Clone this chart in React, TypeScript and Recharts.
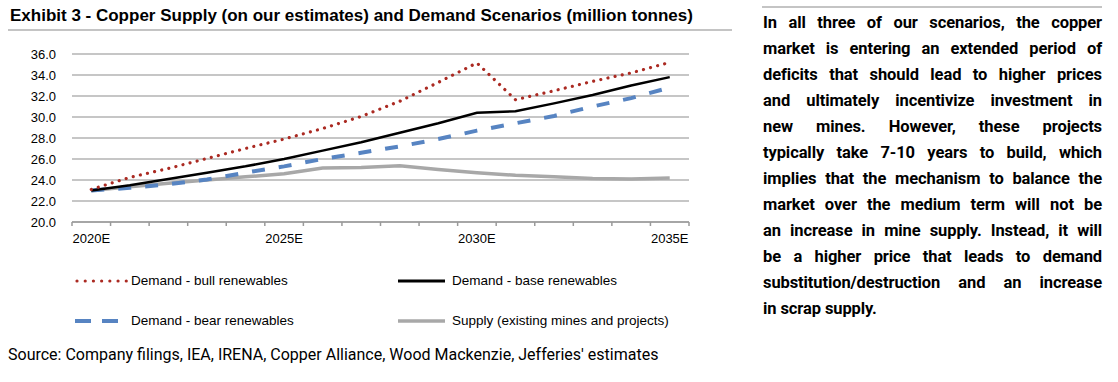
import { LineChart, Line, XAxis, YAxis, CartesianGrid } from 'recharts'

const years = ['2020E', '2021E', '2022E', '2023E', '2024E', '2025E', '2026E', '2027E', '2028E', '2029E', '2030E', '2031E', '2032E', '2033E', '2034E', '2035E']
const bull = [23.1, 24.25, 25.1, 26.05, 27.0, 27.9, 28.9, 30.05, 31.5, 33.3, 35.15, 31.65, 32.5, 33.4, 34.2, 35.2]
const base = [23.0, 23.5, 24.1, 24.7, 25.3, 26.0, 26.8, 27.6, 28.5, 29.4, 30.4, 30.55, 31.3, 32.1, 33.0, 33.8]
const bear = [23.0, 23.25, 23.6, 24.05, 24.7, 25.3, 26.0, 26.6, 27.2, 27.9, 28.7, 29.4, 30.1, 31.0, 31.8, 32.8]
const supply = [23.0, 23.35, 23.7, 24.0, 24.3, 24.6, 25.15, 25.2, 25.35, 25.0, 24.7, 24.45, 24.3, 24.15, 24.1, 24.2]
const yTicks = [20, 22, 24, 26, 28, 30, 32, 34, 36]
const labelYears = ['2020E', '2025E', '2030E', '2035E']

const seriesNames = {
  bull: 'Demand - bull renewables',
  base: 'Demand - base renewables',
  bear: 'Demand - bear renewables',
  supply: 'Supply (existing mines and projects)'
}

const paragraph = [
  'In all three of our scenarios, the copper',
  'market is entering an extended period of',
  'deficits that should lead to higher prices',
  'and ultimately incentivize investment in',
  'new mines. However, these projects',
  'typically take 7-10 years to build, which',
  'implies that the mechanism to balance the',
  'market over the medium term will not be',
  'an increase in mine supply. Instead, it will',
  'be a higher price that leads to demand',
  'substitution/destruction and an increase',
  'in scrap supply.'
]

const data = years.map((year, i) => ({
  year,
  bull: bull[i],
  base: base[i],
  bear: bear[i],
  supply: supply[i]
}))

const CHART_W = 720
const CHART_H = 260
const PLOT_LEFT = 72
const PLOT_RIGHT = 689
const BAND = (PLOT_RIGHT - PLOT_LEFT) / years.length
const labelFont = '"Liberation Sans", Arial, sans-serif'

const BULL_COLOR = '#ab2a22'
const BEAR_COLOR = '#5784c2'
const SUPPLY_COLOR = '#a8a8a8'

// category ticks: marks on the band edges, labels every 5 years
const XTick = (props: any) => {
  const { x, y, payload, index } = props
  const axisY = y - 8
  return (
    <g>
      <line x1={x - BAND / 2} x2={x - BAND / 2} y1={axisY} y2={axisY + 4} stroke="#9a9a9a" strokeWidth={1.5} />
      {index === years.length - 1 && (
        <line x1={x + BAND / 2} x2={x + BAND / 2} y1={axisY} y2={axisY + 4} stroke="#9a9a9a" strokeWidth={1.5} />
      )}
      {labelYears.includes(payload.value) && (
        <text x={x} y={axisY + 21} textAnchor="middle" fontSize={13} fontFamily={labelFont} fill="#000">
          {payload.value}
        </text>
      )}
    </g>
  )
}

const Swatch = ({ kind }: { kind: string }) => {
  if (kind === 'bull') {
    return (
      <svg width={54} height={12} style={{ display: 'block' }}>
        <line x1={2} x2={52} y1={6} y2={6} stroke={BULL_COLOR} strokeWidth={3.2} strokeDasharray="0.01 8.2" strokeLinecap="round" />
      </svg>
    )
  }
  if (kind === 'bear') {
    return (
      <svg width={54} height={12} style={{ display: 'block' }}>
        <line x1={0} x2={43} y1={6} y2={6} stroke={BEAR_COLOR} strokeWidth={4} strokeDasharray="16 11" />
      </svg>
    )
  }
  return (
    <svg width={54} height={12} style={{ display: 'block' }}>
      <line x1={2} x2={49} y1={6} y2={6} stroke={kind === 'base' ? '#000' : SUPPLY_COLOR} strokeWidth={kind === 'base' ? 3 : 3.5} />
    </svg>
  )
}

const LegendItem = ({ kind, left, top }: { kind: keyof typeof seriesNames; left: number; top: number }) => (
  <div style={{ position: 'absolute', left, top, display: 'flex', alignItems: 'center', gap: 2 }}>
    <Swatch kind={kind} />
    <span style={{ fontFamily: labelFont, fontSize: 13.5, color: '#000', whiteSpace: 'nowrap' }}>{seriesNames[kind]}</span>
  </div>
)

export default function App() {
  return (
    <div style={{ position: 'absolute', left: 0, top: 0, width: 1118, height: 382, background: '#fff', overflow: 'hidden' }}>
      {/* title */}
      <div
        style={{
          position: 'absolute',
          left: 10,
          top: 6,
          fontFamily: '"Liberation Sans Narrow", "Arial Narrow", sans-serif',
          fontWeight: 'bold',
          fontSize: 17,
          color: '#000',
          whiteSpace: 'nowrap'
        }}
      >
        Exhibit 3 - Copper Supply (on our estimates) and Demand Scenarios (million tonnes)
      </div>
      <div style={{ position: 'absolute', left: 8, top: 29, width: 724, height: 2, background: '#c4c4c4' }} />
      <div style={{ position: 'absolute', left: 762, top: 6, width: 340, height: 2, background: '#c4c4c4' }} />

      <div style={{ position: 'absolute', left: 0, top: 0 }}>
        <LineChart width={CHART_W} height={CHART_H} data={data} margin={{ top: 54, right: CHART_W - PLOT_RIGHT, bottom: 8, left: 0 }}>
          <CartesianGrid vertical={false} stroke="#b3b3b3" strokeWidth={1.5} />
          <XAxis
            dataKey="year"
            interval={0}
            height={30}
            padding={{ left: BAND / 2, right: BAND / 2 }}
            axisLine={{ stroke: '#a6a6a6', strokeWidth: 2 }}
            tickLine={false}
            tickSize={6}
            tickMargin={2}
            tick={XTick}
          />
          <YAxis
            width={PLOT_LEFT}
            domain={[20, 36]}
            ticks={yTicks}
            interval={0}
            axisLine={false}
            tickLine={false}
            tickMargin={10}
            tickFormatter={(v: number) => v.toFixed(1)}
            tick={{ fontSize: 13, fontFamily: labelFont, fill: '#000' }}
          />
          <Line dataKey="supply" name={seriesNames.supply} stroke={SUPPLY_COLOR} strokeWidth={3.5} dot={false} activeDot={false} isAnimationActive={false} />
          <Line dataKey="bear" name={seriesNames.bear} stroke={BEAR_COLOR} strokeWidth={4} strokeDasharray="13 14" dot={false} activeDot={false} isAnimationActive={false} />
          <Line dataKey="base" name={seriesNames.base} stroke="#000" strokeWidth={2.5} dot={false} activeDot={false} isAnimationActive={false} />
          <Line
            dataKey="bull"
            name={seriesNames.bull}
            stroke={BULL_COLOR}
            strokeWidth={3.2}
            strokeDasharray="0.01 7.3"
            strokeLinecap="round"
            dot={false}
            activeDot={false}
            isAnimationActive={false}
          />
        </LineChart>
      </div>

      <LegendItem kind="bull" left={75} top={273} />
      <LegendItem kind="base" left={396} top={273} />
      <LegendItem kind="bear" left={75} top={313} />
      <LegendItem kind="supply" left={396} top={313} />

      <div style={{ position: 'absolute', left: 8, top: 345, fontFamily: 'Roboto, sans-serif', fontSize: 16, color: '#000', whiteSpace: 'nowrap' }}>
        Source: Company filings, IEA, IRENA, Copper Alliance, Wood Mackenzie, Jefferies' estimates
      </div>

      {/* commentary */}
      <div
        style={{
          position: 'absolute',
          left: 763,
          top: 10,
          width: 339,
          fontFamily: 'Roboto, sans-serif',
          fontWeight: 'bold',
          fontSize: 16.5,
          letterSpacing: -0.1,
          color: '#000'
        }}
      >
        {paragraph.map((line, i) => (
          <div
            key={i}
            style={{
              height: 26,
              lineHeight: '26px',
              whiteSpace: 'nowrap',
              textAlign: 'justify',
              textAlignLast: i === paragraph.length - 1 ? 'left' : 'justify'
            }}
          >
            {line}
          </div>
        ))}
      </div>
    </div>
  )
}
